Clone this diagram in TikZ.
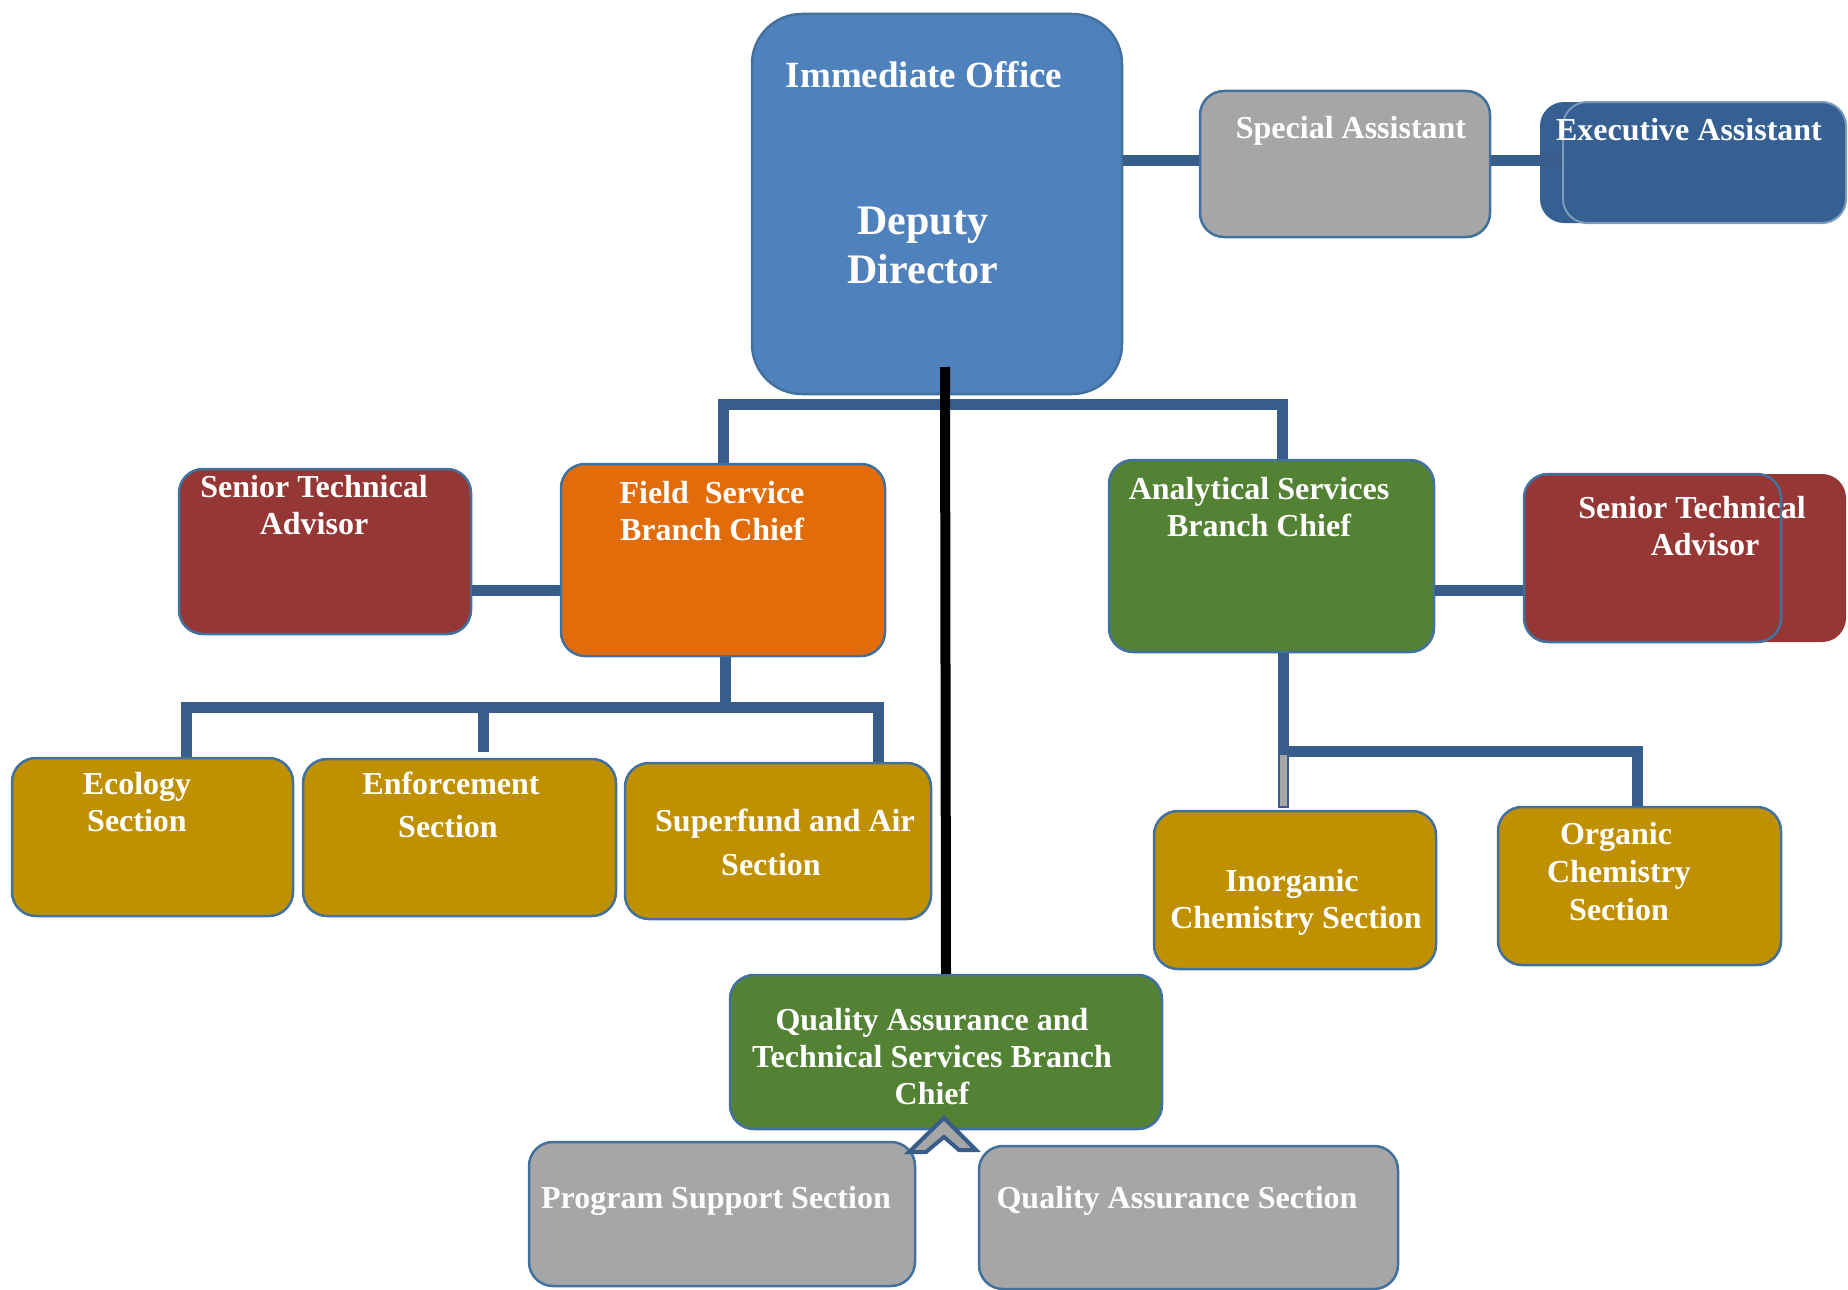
\documentclass[tikz,border=0pt]{standalone}
\usepackage{fontspec}
\setmainfont{Liberation Serif}
\usepackage{tikz}
\usetikzlibrary{positioning,calc}

\definecolor{bordercol}{RGB}{65,113,156}
\definecolor{conncol}{RGB}{56,93,138}
\definecolor{ddblue}{RGB}{79,129,189}
\definecolor{exblue}{RGB}{54,96,146}
\definecolor{advred}{RGB}{149,55,53}
\definecolor{fsorange}{RGB}{227,108,10}
\definecolor{brgreen}{RGB}{83,130,53}
\definecolor{secgold}{RGB}{191,144,0}
\definecolor{boxgray}{RGB}{166,166,166}

\begin{document}
\begin{tikzpicture}[
    x=1pt, y=-1pt,
    box/.style={rectangle, draw=bordercol, line width=2.5pt, rounded corners=24pt, inner sep=0pt},
    txt/.style={text=white, inner sep=0pt, align=center, font=\fontsize{32}{37}\selectfont\bfseries},
    conn/.style={draw=conncol, line width=11pt},
    spine/.style={draw=black, line width=10pt}
]
\useasboundingbox (0,0) rectangle (1848,1290);

% Immediate Office
\node[box, fill=ddblue, rounded corners=50pt, minimum width=370pt, minimum height=380pt] (dd) at (937,204) {};
\node[txt, font=\fontsize{37}{42}\selectfont\bfseries] (ddtitle) at (924,75) {Immediate Office};
\node[txt, font=\fontsize{42}{49}\selectfont\bfseries] (ddtext) at (923,245) {Deputy\\Director};

\node[box, fill=boxgray, minimum width=290pt, minimum height=146pt] (spa) at (1345,164) {};
\node[txt] (spatext) at (1351,131) {Special Assistant};

\node[box, draw=none, fill=exblue, minimum width=285pt, minimum height=121pt] (exaback) at (1682.5,162.5) {};

% Branch Chiefs
\node[box, fill=advred, minimum width=292pt, minimum height=165pt] (staL) at (325,551.5) {};
\node[txt] (staLtext) at (314,505) {Senior\ Technical\\Advisor};

\node[box, fill=fsorange, minimum width=324pt, minimum height=192pt] (fsb) at (723,560) {};
\node[txt] (fsbtext) at (712,511) {Field\ \ Service\\Branch Chief};

\node[box, fill=brgreen, minimum width=325pt, minimum height=192pt] (asb) at (1271.5,556) {};
\node[txt] (asbtext) at (1259,507) {Analytical Services\\Branch Chief};

\node[box, draw=none, fill=advred, minimum width=258pt, minimum height=168pt] (staRback) at (1717,558) {};
\node[box, fill=advred, minimum width=257pt, minimum height=168pt] (staR) at (1652.5,558) {};
\node[txt] (staRtext) at (1692,526) {Senior Technical\\\hspace*{26pt}Advisor};

% Sections
\node[box, fill=secgold, minimum width=281pt, minimum height=158pt] (eco) at (152.5,837) {};
\node[txt] (ecotext) at (137,802) {Ecology\\Section};

\node[box, fill=secgold, minimum width=313pt, minimum height=157pt] (enf) at (459.5,837.5) {};
\node[txt, font=\fontsize{32}{43}\selectfont\bfseries] (enftext) at (451,805) {Enforcement\\\hspace*{-6pt}Section};

\node[box, fill=secgold, minimum width=306pt, minimum height=156pt] (sup) at (778,841) {};
\node[txt, font=\fontsize{32}{44}\selectfont\bfseries] (suptext) at (785,842) {Superfund and Air\\\hspace*{-28pt}Section};

\node[box, fill=secgold, minimum width=282pt, minimum height=158pt] (inorg) at (1295,890) {};
\node[txt] (inorgtext) at (1296,902) {\hspace*{-8pt}Inorganic\\Chemistry Section};

\node[box, fill=secgold, minimum width=283pt, minimum height=158pt] (org) at (1639.5,886) {};
\node[txt, font=\fontsize{32}{38}\selectfont\bfseries] (orgtext) at (1619,872) {\hspace*{-6pt}Organic\\Chemistry\\Section};

% Quality Assurance
\node[box, fill=brgreen, minimum width=432pt, minimum height=154pt] (qat) at (946,1052) {};
\node[txt] (qattext) at (932,1057) {Quality Assurance and\\Technical Services Branch\\Chief};

\node[box, fill=boxgray, minimum width=386pt, minimum height=144pt] (pss) at (722,1214) {};
\node[txt] (psstext) at (716,1201) {Program Support Section};

\node[box, fill=boxgray, minimum width=419pt, minimum height=143pt] (qas) at (1188.5,1217.5) {};
\node[txt] (qastext) at (1177,1201) {Quality Assurance Section};

% Connectors
\coordinate (topY) at (0,160);
\coordinate (ddbar) at (0,404);
\coordinate (advY) at (0,590);
\coordinate (fbusL) at (186,707);
\coordinate (fbusM) at (483,707);
\coordinate (fbusR) at (878,707);
\coordinate (abusL) at (1283,751);
\coordinate (abusR) at (1637,751);
\coordinate (spinetop) at (945,367);

\draw[conn] (dd.east |- topY) -- (spa.west |- topY);
\draw[conn] (spa.east |- topY) -- ([xshift=23pt]exaback.west |- topY);
\node[box, draw=bordercol!70!white, line width=2pt, fill=exblue, minimum width=283pt, minimum height=121pt] (exa) at (1704.5,162.5) {};
\node[txt] (exatext) at (1689,130) {Executive Assistant};

\draw[conn] (fsb.north) |- ([xshift=11pt]asb.north |- ddbar) -- ([xshift=11pt]asb.north);
\draw[conn] (staL.east |- advY) -- (fsb.west |- advY);
\draw[conn] (asb.east |- advY) -- (staR.west |- advY);

\draw[conn] ([xshift=2pt]fsb.south) -- ([xshift=2pt]fsb.south |- fbusL);
\draw[conn] (fbusL |- eco.north) -- (fbusL) -- (fbusR) -- (fbusR |- sup.north);
\draw[conn] (fbusM) -- ++(0,45);

\draw[conn] ([xshift=11.5pt]asb.south) -- (abusL) -- (abusR) -- (abusR |- org.north);
\draw[draw=conncol, line width=1.5pt, fill=boxgray] (1279,754) rectangle (1288,807);

\draw[spine] (spinetop) -- (qat.north);

% chevron
\draw[draw=conncol, line width=4pt, fill=boxgray, line join=miter]
    (909,1152) -- (944,1118) -- (976,1150) -- (959,1150) -- (944,1137) -- (926,1152) -- cycle;

\end{tikzpicture}
\end{document}
